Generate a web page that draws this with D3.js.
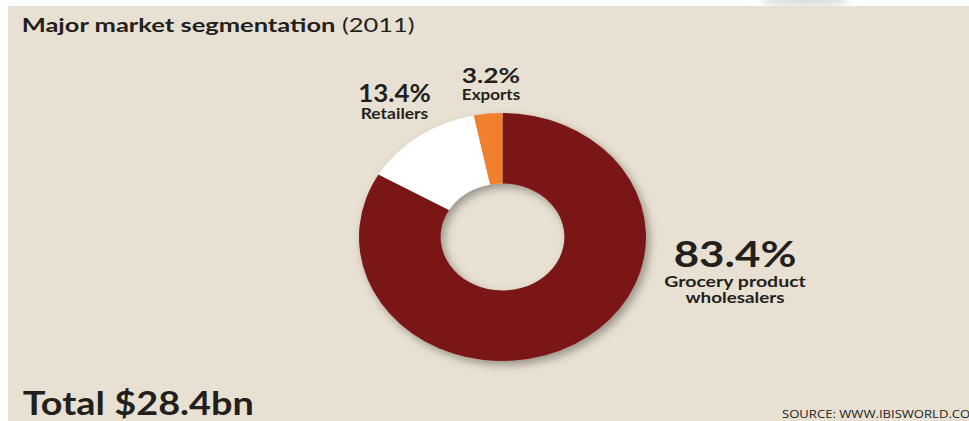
<!DOCTYPE html>
<html>
<head>
<meta charset="utf-8">
<script src="https://cdn.jsdelivr.net/npm/d3@7"></script>
<style>
  html, body { margin: 0; padding: 0; background: #fff; }
  svg { display: block; }
  text { font-family: Lato, "Open Sans", sans-serif; fill: #231f1c; }
</style>
</head>
<body>
<div id="chart"></div>
<script>
// market segments, 2011
const categories = ["Grocery product wholesalers", "Retailers", "Exports"]
const shares = [83.4, 13.4, 3.2]
const colors = ["#7a1414", "#ffffff", "#f07f2f"]
const labelLines = [["Grocery product", "wholesalers"], ["Retailers"], ["Exports"]]

const width = 969, height = 421
const svg = d3.select("#chart").append("svg")
    .attr("width", width).attr("height", height)

// beige panel
svg.append("rect")
    .attr("x", 8).attr("y", 6)
    .attr("width", width - 8).attr("height", height - 6)
    .attr("fill", "#e8e1d3")

const defs = svg.append("defs")
const f = defs.append("filter").attr("id", "shadow")
    .attr("x", "-20%").attr("y", "-20%").attr("width", "140%").attr("height", "140%")
f.append("feDropShadow")
    .attr("dx", 3).attr("dy", 4).attr("stdDeviation", 4)
    .attr("flood-color", "#000").attr("flood-opacity", 0.35)

// faint blur at the top edge
const g0 = defs.append("filter").attr("id", "blur")
g0.append("feGaussianBlur").attr("stdDeviation", 4)
svg.append("ellipse")
    .attr("cx", 805).attr("cy", 0).attr("rx", 45).attr("ry", 6)
    .attr("fill", "#d9d9d9").attr("filter", "url(#blur)")
svg.append("rect").attr("x", 8).attr("y", 6).attr("width", width).attr("height", 6).attr("fill", "#e8e1d3")

// donut (the picture is stretched a bit horizontally)
const cx = 502.5, cy = 237, ry = 124, rx = 143.5
const data = categories.map((c, i) => ({ name: c, value: shares[i], color: colors[i], lines: labelLines[i] }))

const pie = d3.pie().sort(null).value(d => d.value)
const arc = d3.arc().innerRadius(53.5).outerRadius(ry)

const donut = svg.append("g")
    .attr("transform", `translate(${cx},${cy}) scale(${rx / ry},1)`)
    .attr("filter", "url(#shadow)")

donut.selectAll("path")
    .data(pie(data))
    .join("path")
    .attr("d", arc)
    .attr("fill", d => d.data.color)

// label anchors: centre x, baseline of the percentage, sizes and widths
const labelPos = {
    "Grocery product wholesalers": { x: 735, y: 266.5, big: 37, bigW: 122.7, small: 15, gap: 20, lead: 16.6, smallW: [141.7, 99] },
    "Retailers": { x: 394.5, y: 101.7, big: 25, bigW: 72.7, small: 15, gap: 17.3, lead: 15, smallW: [67.6] },
    "Exports": { x: 491, y: 83.3, big: 21, bigW: 58.3, small: 15, gap: 16.7, lead: 15, smallW: [58.3] }
}

const fmt = d3.format(".1f")
const labels = svg.selectAll("g.label")
    .data(data)
    .join("g")
    .attr("class", "label")
    .attr("transform", d => `translate(${labelPos[d.name].x},${labelPos[d.name].y})`)

labels.append("text")
    .attr("text-anchor", "middle")
    .attr("font-size", d => labelPos[d.name].big)
    .attr("font-weight", 700)
    .attr("textLength", d => labelPos[d.name].bigW)
    .attr("lengthAdjust", "spacingAndGlyphs")
    .text(d => fmt(d.value) + "%")

labels.each(function(d) {
    const p = labelPos[d.name]
    d3.select(this).selectAll("text.sub")
        .data(d.lines)
        .join("text")
        .attr("class", "sub")
        .attr("text-anchor", "middle")
        .attr("y", (t, i) => p.gap + i * p.lead)
        .attr("font-size", p.small)
        .attr("font-weight", 700)
        .attr("textLength", (t, i) => p.smallW[i])
        .attr("lengthAdjust", "spacingAndGlyphs")
        .text(t => t)
})

// title
const title = svg.append("text").attr("x", 21.7).attr("y", 31.7).attr("font-size", 19.5)
    .attr("textLength", 393).attr("lengthAdjust", "spacingAndGlyphs")
title.append("tspan").attr("font-weight", 700).text("Major market segmentation")
title.append("tspan").attr("font-weight", 400).text(" (2011)")

svg.append("text")
    .attr("x", 22.7).attr("y", 415)
    .attr("font-size", 32).attr("font-weight", 700)
    .attr("textLength", 231.3).attr("lengthAdjust", "spacingAndGlyphs")
    .text("Total $28.4bn")

svg.append("text")
    .attr("x", 782).attr("y", 418.3)
    .attr("font-size", 11).attr("fill", "#333")
    .attr("textLength", 200).attr("lengthAdjust", "spacingAndGlyphs")
    .style("font-family", "'Open Sans', sans-serif")
    .text("SOURCE: WWW.IBISWORLD.COM")
</script>
</body>
</html>
